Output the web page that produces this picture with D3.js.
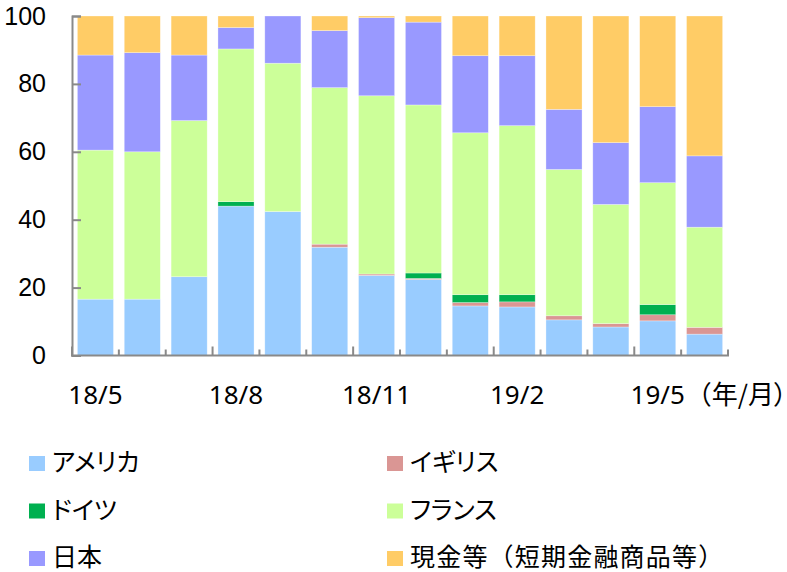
<!DOCTYPE html>
<html>
<head>
    <meta charset="utf-8">
    <title>stacked</title>
    <style>
        body { margin: 0; background: #fff; overflow: hidden; }
        svg text { font-family: "Noto Sans", "Noto Sans CJK JP", sans-serif; fill: #000; }
        svg text.jp { font-family: "Noto Sans CJK JP", sans-serif; }
        svg .yax text { font-family: "Liberation Sans", sans-serif; }
        .palt { font-feature-settings: "palt"; }
    </style>
    <script src="https://d3js.org/d3.v7.min.js"></script>
</head>
<body>
<script>
    // months 18/5 .. 19/6
    const months = ["18/5", "18/6", "18/7", "18/8", "18/9", "18/10", "18/11", "18/12", "19/1", "19/2", "19/3", "19/4", "19/5", "19/6"];
    const tickLabels = ["18/5", "18/8", "18/11", "19/2", "19/5"];
    const seriesNames = ["アメリカ", "イギリス", "ドイツ", "フランス", "日本", "現金等（短期金融商品等）"];
    const colors = ["#99ccff", "#da9694", "#00b050", "#ccff99", "#9999ff", "#ffcc66"];

    const america = [16.6, 16.6, 23.2, 44.0, 42.4, 31.9, 23.6, 22.4, 14.6, 14.3, 10.5, 8.4, 10.2, 6.3];
    const uk      = [0, 0, 0, 0, 0, 0.9, 0.4, 0.3, 1.0, 1.5, 1.2, 1.0, 1.8, 2.0];
    const germany = [0, 0, 0, 1.3, 0, 0, 0, 1.6, 2.3, 2.1, 0, 0, 3.0, 0];
    const france  = [43.9, 43.4, 46.0, 45.0, 43.7, 46.1, 52.5, 49.5, 47.7, 49.8, 43.1, 35.1, 35.9, 29.5];
    const japan   = [28.0, 29.2, 19.3, 6.3, 13.9, 16.8, 23.0, 24.4, 22.7, 20.6, 17.7, 18.2, 22.4, 21.0];
    const cash    = [11.5, 10.8, 11.5, 3.4, 0, 4.3, 0.5, 1.8, 11.7, 11.7, 27.5, 37.3, 26.7, 41.2];

    const allSeries = [america, uk, germany, france, japan, cash];
    const rows = months.map((m, i) => {
        const r = {month: m};
        seriesNames.forEach((s, k) => r[s] = allSeries[k][i]);
        return r;
    });

    const width = 787, height = 572;
    const svg = d3.select("body").append("svg")
        .attr("width", width)
        .attr("height", height);

    const x = d3.scaleBand()
        .domain(months)
        .range([72, 728])
        .paddingInner(0.23)
        .paddingOuter(0.115);
    const y = d3.scaleLinear()
        .domain([0, 100])
        .range([355.5, 16]);

    const stack = d3.stack().keys(seriesNames);
    const layers = stack(rows);

    svg.append("g").selectAll("g")
        .data(layers)
        .join("g")
        .attr("fill", (d, i) => colors[i])
        .selectAll("rect")
        .data(d => d)
        .join("rect")
        .attr("x", d => x(d.data.month))
        .attr("width", x.bandwidth())
        .attr("y", d => y(d[1]))
        .attr("height", d => Math.max(0, y(d[0]) - y(d[1])))
        .attr("stroke", "#fff")
        .attr("stroke-opacity", 0.5)
        .attr("stroke-width", 0.6);

    const axisColor = "#898989";

    // y axis
    const yAxis = svg.append("g")
        .attr("class", "yax")
        .attr("transform", "translate(72,0)")
        .call(d3.axisLeft(y).tickValues([0, 20, 40, 60, 80, 100]).tickSize(-9).tickPadding(26));
    yAxis.attr("font-family", null);
    yAxis.select(".domain").attr("stroke", axisColor).attr("stroke-width", 2);
    yAxis.selectAll(".tick line").attr("stroke", axisColor).attr("stroke-width", 2);
    yAxis.selectAll(".tick text").attr("font-size", 25);

    // x axis: line + boundary ticks
    const step = x.step();
    const x0 = x.range()[0];
    const xg = svg.append("g");
    xg.append("line")
        .attr("x1", 71).attr("x2", 729)
        .attr("y1", y(0)).attr("y2", y(0))
        .attr("stroke", axisColor).attr("stroke-width", 2);
    xg.selectAll("line.b")
        .data(d3.range(months.length + 1))
        .join("line")
        .attr("class", "b")
        .attr("x1", i => x0 + i * step).attr("x2", i => x0 + i * step)
        .attr("y1", y(0))
        .attr("y2", i => y(0) - (i % 3 === 0 ? 9 : 6))
        .attr("stroke", axisColor).attr("stroke-width", 2);

    xg.selectAll("text.lab")
        .data(tickLabels)
        .join("text")
        .attr("class", "lab")
        .attr("x", d => x(d) + x.bandwidth() / 2)
        .attr("y", 404)
        .attr("text-anchor", "middle")
        .attr("font-size", 26)
        .text(d => d);
    const unit = svg.append("text")
        .attr("class", "jp")
        .attr("x", x("19/5") + x.bandwidth() / 2 + 28)
        .attr("y", 404)
        .attr("font-size", 26);
    unit.append("tspan").text("（年/月");
    unit.append("tspan").attr("class", "palt").text("）");

    // legend
    const legend = svg.append("g");
    const items = legend.selectAll("g")
        .data(seriesNames)
        .join("g")
        .attr("transform", (d, i) => `translate(${i % 2 === 0 ? 29 : 387},${455 + Math.floor(i / 2) * 47.5})`);
    items.append("rect")
        .attr("y", 1)
        .attr("width", 16).attr("height", 15)
        .attr("fill", (d, i) => colors[i]);
    items.append("text")
        .attr("class", (d, i) => i < 4 ? "jp palt" : "jp")
        .attr("x", 23)
        .attr("y", 16)
        .attr("font-size", 25)
        .attr("letter-spacing", (d, i) => i === 5 ? 1.2 : 0)
        .text(d => d);
</script>
</body>
</html>
